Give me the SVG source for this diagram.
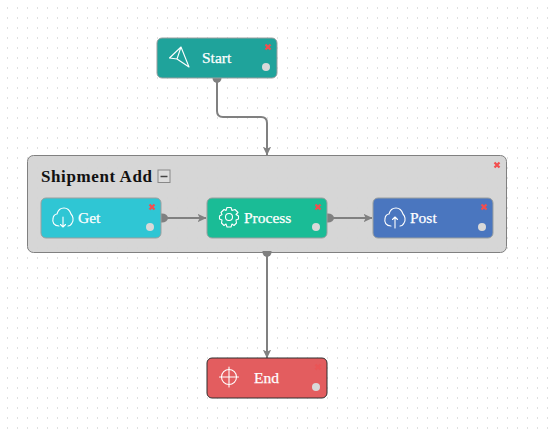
<svg xmlns="http://www.w3.org/2000/svg" width="550" height="437" viewBox="0 0 550 437">
<style>
.node{stroke:#9a9f9f;stroke-width:1}
.label{font-family:"Liberation Serif",serif;font-size:15.500px;fill:#fff;stroke:#fff;stroke-width:0.25}
.icon{fill:none;stroke:#fff;stroke-width:1.1;stroke-linejoin:round;stroke-linecap:round}
.x{stroke:#f24e4e;stroke-width:2.200;fill:none}
.dot{fill:#d9d9d9}
.conn{fill:none;stroke:#808080;stroke-width:2}
.port{fill:#808080}
</style>
<defs>
<pattern id="grid" width="10" height="10" patternUnits="userSpaceOnUse"><rect x="7" y="7" width="1" height="2" fill="#e0e0e0"/></pattern>
<marker id="arrow" viewBox="0 0 8 8" refX="7.500" refY="4" markerWidth="9" markerHeight="9" markerUnits="userSpaceOnUse" orient="auto"><path d="M0 0.300L8 4L0 7.700L2 4Z" fill="#808080"/></marker>
<g id="xm"><path class="x" d="M-2.500-2.500L2.500 2.500M2.500-2.500L-2.500 2.500"/></g>
</defs>
<rect width="550" height="437" fill="#fff"/>
<rect width="550" height="437" fill="url(#grid)"/>
<g id="group-shipment">
<rect x="27.500" y="155.500" width="479" height="97" rx="6" fill="#d3d3d3" fill-opacity="0.92" stroke="#808080"/>
<text x="41" y="182" font-family="'Liberation Serif',serif" font-size="17" font-weight="bold" letter-spacing="0.6" fill="#111">Shipment Add</text>
<rect x="158" y="170" width="12" height="12.500" fill="#ddd" stroke="#888"/>
<path d="M160.500 176.500h7" stroke="#444" stroke-width="1.500"/>
<use href="#xm" x="497" y="165"/>
</g>
<g id="connectors">
<path class="conn" d="M217 79V111Q217 117 223 117H261Q267 117 267 123V155" marker-end="url(#arrow)"/>
<path class="conn" d="M164 218H206" marker-end="url(#arrow)"/>
<path class="conn" d="M330 218H372" marker-end="url(#arrow)"/>
<path class="conn" d="M267 254V358" marker-end="url(#arrow)"/>
<path class="port" d="M212.500 77h9v1a4.500 5 0 0 1-9 0Z"/>
<path class="port" d="M161 213.500h1a6 4.500 0 0 1 0 9h-1Z"/>
<path class="port" d="M327 213.500h1a6 4.500 0 0 1 0 9h-1Z"/>
<path class="port" d="M262.500 251h9v1a4.500 5 0 0 1-9 0Z"/>
</g>
<g id="node-start">
<rect class="node" x="157" y="38" width="120" height="40" rx="5" fill="#1fa39b"/>
<path class="icon" d="M169.500 58L181 47L189 67L177 59ZM181 47L177 59"/>
<text class="label" x="202" y="63">Start</text>
<use href="#xm" x="268" y="47"/>
<circle class="dot" cx="266" cy="67" r="4"/>
</g>
<g id="node-get">
<rect class="node" x="41" y="198" width="120" height="40" rx="5" fill="#2fc6d4"/>
<path class="icon" d="M59 226C54 226 52 222 53 219C53 216 55 214 57 214C58 210 61 208 64 208C68 208 70 211 71 214C73 216 74 220 72 223C71 225 70 226 68 226M63 217V227M60.500 224.500L63 227L65.500 224.500"/>
<text class="label" x="78" y="223">Get</text>
<use href="#xm" x="152" y="207"/>
<circle class="dot" cx="150" cy="227" r="4"/>
</g>
<g id="node-process">
<rect class="node" x="207" y="198" width="120" height="40" rx="5" fill="#1abc96"/>
<circle class="icon" cx="229" cy="217" r="3.500"/>
<path class="icon" d="M227 207.500L231 207.500L232 210.500L235 209.500L238 212.500L236 214.500L238.500 216L238.500 219L236 220L236.500 223L234 225.500L232 224L231 227L227 227L226 224L224 225.500L221.500 223L222 220L219.500 219L219.500 216L222 214.500L221 212.500L224 209.500L226 210.500Z"/>
<text class="label" x="244" y="223">Process</text>
<use href="#xm" x="318" y="207"/>
<circle class="dot" cx="316" cy="227" r="4"/>
</g>
<g id="node-post">
<rect class="node" x="373" y="198" width="120" height="40" rx="5" fill="#4a76bf"/>
<path class="icon" d="M391 226C386 226 384 222 385 219C385 216 387 214 389 214C390 210 393 208 396 208C400 208 402 211 403 214C405 216 406 220 404 223C403 225 402 226 400 226M395 228V217M392.500 219.500L395 217L397.500 219.500"/>
<text class="label" x="410" y="223">Post</text>
<use href="#xm" x="484" y="207"/>
<circle class="dot" cx="482" cy="227" r="4"/>
</g>
<g id="node-end">
<rect x="207" y="358" width="120" height="40" rx="5" fill="#e35d5f" stroke="#2f2f2f"/>
<circle class="icon" cx="229" cy="377" r="7.500"/>
<path class="icon" d="M229 367V387M219.500 377H238.500"/>
<text class="label" x="254" y="383">End</text>
<g opacity="0.5"><use href="#xm" x="318" y="367"/></g>
<circle class="dot" cx="316" cy="387" r="4"/>
</g>
</svg>
